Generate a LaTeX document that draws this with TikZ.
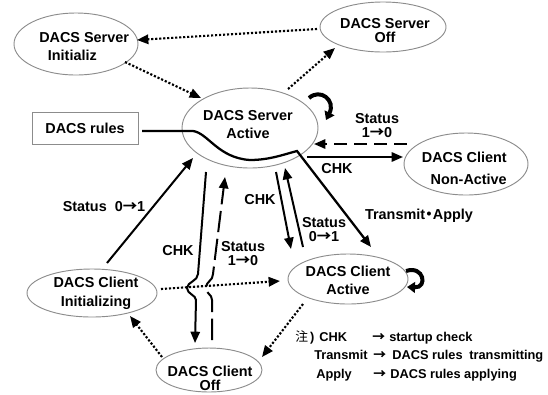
\documentclass[tikz,border=0pt]{standalone}
\usepackage{fontspec}
\setmainfont{Liberation Sans}
\newfontfamily\cjk{Noto Sans CJK JP}
\usetikzlibrary{arrows.meta,calc,shapes.geometric}
\newcommand\toarr{{\cjk →}}
\begin{document}
\begin{tikzpicture}[x=0.75pt,y=-0.75pt,
  state/.style={ellipse,draw=black!45,line width=0.7pt,inner sep=0pt},
  lbl/.style={font=\bfseries\fontsize{10.8}{13}\selectfont,align=center,inner sep=0pt},
  note/.style={font=\bfseries\fontsize{9.6}{11}\selectfont,inner sep=0pt,anchor=west,text height=7pt,text depth=2pt},
  tip/.style={-{Triangle[length=8.5pt,width=7pt]}},
  solidarr/.style={tip,line width=1.5pt},
  dotarr/.style={tip,line width=1.6pt,dash pattern=on 1.6pt off 1.4pt},
  dasharr/.style={tip,line width=1.5pt,dash pattern=on 10pt off 5pt},
  vdasharr/.style={tip,line width=1.5pt,dash pattern=on 16pt off 5pt},
  looparr/.style={-{Triangle[length=6pt,width=8pt]},line width=3pt}
]
\useasboundingbox (0,0) rectangle (548,394);

% states
\node[state,minimum width=93pt,minimum height=46.5pt] (si) at (76,44) {};
\node[state,minimum width=94.5pt,minimum height=37.5pt] (so) at (383,27) {};
\node[state,minimum width=102pt,minimum height=60pt] (sa) at (250,128) {};
\node[state,minimum width=93pt,minimum height=46.5pt] (cn) at (466,164) {};
\node[state,minimum width=90pt,minimum height=37.5pt] (ca) at (348,279) {};
\node[state,minimum width=97.5pt,minimum height=36pt] (ci) at (92,293) {};
\node[state,minimum width=79.5pt,minimum height=33pt] (co) at (209,370) {};
\node[draw=black!45,line width=0.7pt,minimum width=79.5pt,minimum height=24pt,inner sep=0pt,
      font=\bfseries\fontsize{10.8}{13}\selectfont] (rules) at (85,128) {DACS rules};

% state names
\node[lbl,align=left,anchor=west] (tsi) at (39,47) {DACS Server\\[0.5pt]\hspace*{6.5pt}Initializ};
\node[lbl] (tso) at (385,31) {DACS Server\\[-2.5pt]Off};
\node[lbl] (tsa) at (248,125) {DACS Server\\[0.5pt]Active};
\node[lbl,align=right,anchor=east] (tcn) at (507,168) {DACS Client\\[3.5pt]Non-Active};
\node[lbl] (tca) at (348,280) {DACS Client\\[0.5pt]Active};
\node[lbl] (tci) at (96,293) {DACS Client\\[1.2pt]Initializing};
\node[lbl] (tco) at (210,378) {DACS Client\\[-2.5pt]Off};

% server transitions
\draw[dotarr] ($(so)+(-66,2)$) -- ($(si)+(61,-4)$);
\draw[dotarr] ($(si)+(49,18)$) -- ($(sa)+(-49,-30)$);
\draw[dotarr] ($(sa)+(38,-39)$) -- ($(so)+(-48,21)$);
\draw[looparr] ($(sa)+(59,-30)$) .. controls ($(sa)+(70,-40)$) and ($(sa)+(86,-28)$) .. ($(sa)+(76,-8)$);

% server <-> non-active client
\draw[dasharr] ($(cn)+(-59,-20)$) -- ($(sa)+(64,16)$);
\draw[solidarr] ($(sa)+(57,29)$) -- ($(cn)+(-63,-7)$);

% rules flow through the server to the active client
\draw[solidarr,line width=1.7pt] ($(rules)+(57,3)$) -- (193,131)
  .. controls (208,133) and (218,158) .. (250,160)
  .. controls (270,160) and (285,154) .. (297,151)
  -- ($(ca)+(23,-32)$);

% client transitions
\draw[solidarr] ($(ci)+(15,-30)$) -- ($(sa)+(-57,30)$);
\draw[solidarr] ($(sa)+(-44,44)$) -- (198,274)
  .. controls (198,281) and (187,282) .. (187,288)
  .. controls (187,294) and (196,295) .. (196,300)
  -- ($(co)+(-14,-27)$);
\draw[vdasharr] ($(co)+(3,-30)$) -- (212,300)
  .. controls (212,294) and (206,294) .. (206,288)
  .. controls (206,281) and (213,281) .. (213,274)
  -- ($(sa)+(-25,49)$);
\draw[solidarr] ($(sa)+(26,44)$) -- ($(ca)+(-57,-30)$);
\draw[solidarr] ($(ca)+(-45,-32)$) -- ($(sa)+(35,40)$);
\draw[dotarr] ($(ci)+(69,-4)$) -- ($(ca)+(-68,2)$);
\draw[dotarr] ($(ca)+(-45,25)$) -- ($(co)+(53,-13)$);
\draw[dotarr] ($(co)+(-47,-13)$) -- ($(ci)+(38,23)$);
\draw[looparr] ($(ca)+(58,-8)$) .. controls ($(ca)+(76,-14)$) and ($(ca)+(80,9)$) .. ($(ca)+(59,8)$);

% connector labels
\node[lbl] (l1) at (377,126) {Status\\[-2.5pt]1\toarr0};
\node[lbl] (l2) at (337,169) {CHK};
\node[lbl] (l3) at (419,216) {Transmit\kern-2.5pt{\cjk ・}\kern-2.5pt Apply};
\node[lbl] (l4) at (104,207) {Status\hspace{6pt}0\toarr1};
\node[lbl] (l5) at (178,251) {CHK};
\node[lbl] (l6) at (243,254) {Status\\[-2.5pt]1\toarr0};
\node[lbl] (l7) at (260,200) {CHK};
\node[lbl] (l8) at (324,230) {Status\\[-2.5pt]0\toarr1};

% legend
\node[note] (n0) at (295,338) {{\cjk\mdseries 注}\,)};
\node[note] (n1) at (319,338) {CHK};
\node[note] (n2) at (372,338) {\toarr};
\node[note] (n3) at (389,338) {startup check};
\node[note] (n4) at (314,356) {Transmit};
\node[note] (n5) at (373,356) {\toarr};
\node[note] (n6) at (392,356) {DACS rules\hspace{5pt}transmitting};
\node[note] (n7) at (316,375) {Apply};
\node[note] (n8) at (373,375) {\toarr};
\node[note] (n9) at (390,375) {DACS rules applying};
\end{tikzpicture}
\end{document}
